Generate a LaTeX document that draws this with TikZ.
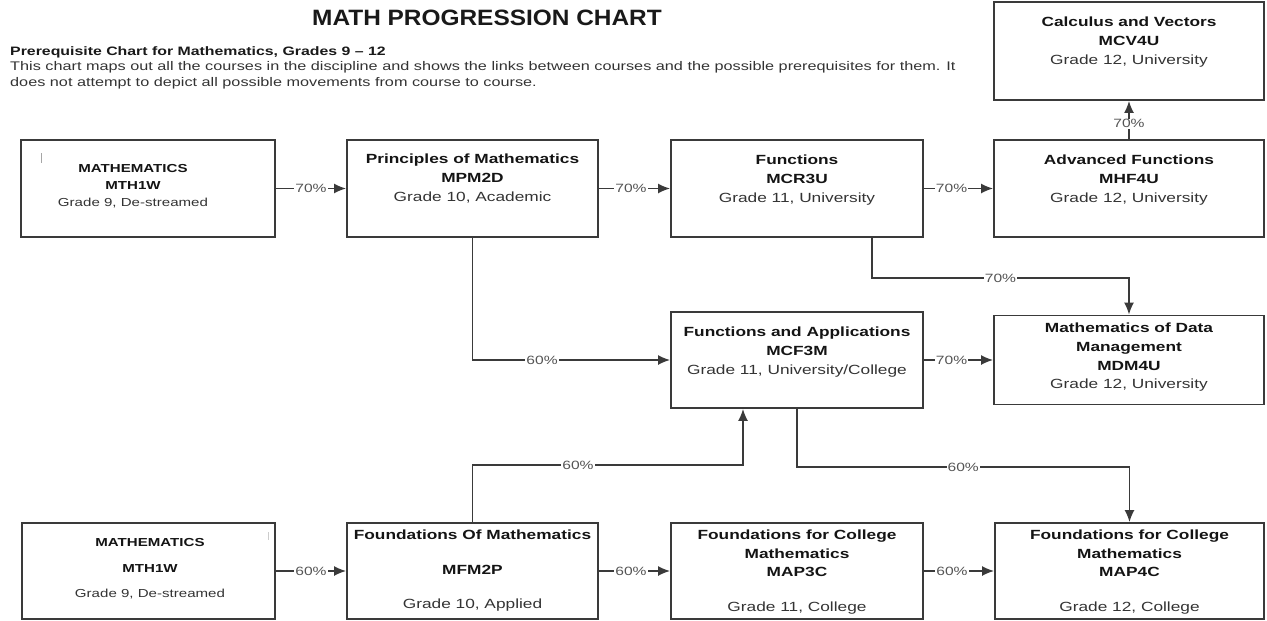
\documentclass[tikz,border=0pt]{standalone}
\usepackage{fontspec}
\setmainfont[FakeStretch=1.3]{Liberation Sans}
\newfontfamily\titlefont[FakeStretch=1.1]{Liberation Sans}
\usetikzlibrary{arrows.meta}
\definecolor{edge}{HTML}{3A3A3A}
\definecolor{bodytxt}{HTML}{333333}
\definecolor{lbl}{HTML}{555555}
\newcommand{\hd}[1]{{\bfseries\color{black!92}#1}}
\tikzset{
  box/.style={draw=edge, line width=1.9pt, rectangle, inner sep=0pt},
  conn/.style={draw=edge, line width=1.5pt, -{Latex[length=12pt,width=10pt]}},
  lab/.style={fill=white, inner sep=1pt, text=lbl, font=\fontsize{12}{14}\selectfont},
  course/.style={align=center, inner sep=0pt, anchor=north, text=bodytxt, font=\fontsize{13.3}{19}\selectfont},
  smallcourse/.style={align=center, inner sep=0pt, anchor=north, text=bodytxt, font=\fontsize{11.6}{17}\selectfont},
}
\begin{document}
\begin{tikzpicture}[x=1pt, y=-1pt]
\useasboundingbox (0,0) rectangle (1267,621);
% title and description
\node[font=\titlefont\bfseries\fontsize{22.2}{26}\selectfont, text=black!90] (title) at (487,18) {MATH PROGRESSION CHART};
\node[anchor=west, inner sep=0pt, font=\bfseries\fontsize{12.2}{14}\selectfont, text=black!90] (sub) at (10,52) {Prerequisite Chart for Mathematics, Grades 9 -- 12};
\node[anchor=north west, align=left, inner sep=0pt, font=\fontsize{12.5}{16}\selectfont, text=bodytxt] (desc) at (10,61.5)
  {This chart maps out all the courses in the discipline and shows the links between courses and the possible prerequisites for them. It\\
   does not attempt to depict all possible movements from course to course.};
% boxes
\node[box, minimum width=254pt, minimum height=97pt] (A) at (148,188.5) {};
\node[box, minimum width=251pt, minimum height=97pt] (B) at (472.5,188.5) {};
\node[box, minimum width=252pt, minimum height=97pt] (C) at (797,188.5) {};
\node[box, minimum width=270pt, minimum height=97pt] (D) at (1129,188.5) {};
\node[box, minimum width=270pt, minimum height=98pt] (E) at (1129,51) {};
\node[box, minimum width=252pt, minimum height=96pt] (F) at (797,360) {};
\node[box, minimum width=270pt, minimum height=89pt] (G) at (1129,360) {};
\node[box, minimum width=253pt, minimum height=96pt] (H) at (148.5,571) {};
\node[box, minimum width=251pt, minimum height=96pt] (I) at (472.5,571) {};
\node[box, minimum width=252pt, minimum height=96pt] (J) at (797,571) {};
\node[box, minimum width=269pt, minimum height=96pt] (K) at (1129.5,571) {};
% box texts
\node[smallcourse] (tA) at (133,164.5) {\hd{MATHEMATICS}\\\hd{MTH1W}\\Grade 9, De-streamed};
\node[course] (tB) at (472.5,154) {\hd{Principles of Mathematics}\\\hd{MPM2D}\\Grade 10, Academic};
\node[course] (tC) at (797,155) {\hd{Functions}\\\hd{MCR3U}\\Grade 11, University};
\node[course] (tD) at (1129,155) {\hd{Advanced Functions}\\\hd{MHF4U}\\Grade 12, University};
\node[course] (tE) at (1129,17) {\hd{Calculus and Vectors}\\\hd{MCV4U}\\Grade 12, University};
\node[course] (tF) at (797,327) {\hd{Functions and Applications}\\\hd{MCF3M}\\Grade 11, University/College};
\node[course, font=\fontsize{13.3}{18.7}\selectfont] (tG) at (1129,323) {\hd{Mathematics of Data}\\\hd{Management}\\\hd{MDM4U}\\Grade 12, University};
\node[smallcourse] (tH) at (150,538.5) {\hd{MATHEMATICS}\\[8.5pt]\hd{MTH1W}\\[8.5pt]Grade 9, De-streamed};
\node[course] (tI) at (472.5,529.5) {\hd{Foundations Of Mathematics}\\[16.5pt]\hd{MFM2P}\\[15pt]Grade 10, Applied};
\node[course, font=\fontsize{13.3}{18.5}\selectfont] (tJ) at (797,530) {\hd{Foundations for College}\\\hd{Mathematics}\\\hd{MAP3C}\\[16pt]Grade 11, College};
\node[course, font=\fontsize{13.3}{18.5}\selectfont] (tK) at (1129.5,530) {\hd{Foundations for College}\\\hd{Mathematics}\\\hd{MAP4C}\\[16pt]Grade 12, College};
% small cursor marks
\draw[black!35, line width=0.8pt] (41,153) -- (41,163);
\draw[black!20, line width=0.6pt] (268,532) -- (268,540);
% connectors
\draw[conn] (A) -- node[lab]{70\%} (B);
\draw[conn] (B) -- node[lab, pos=0.45]{70\%} (C);
\draw[conn] (C) -- node[lab, pos=0.4]{70\%} (D);
\draw[conn] (D) -- node[lab, pos=0.4]{70\%} (E);
\draw[conn] ([xshift=75pt]C.south) -- ++(0,40) -| node[lab, pos=0.25]{70\%} (G.north);
\draw[conn] (B.south) |- node[lab, pos=0.676]{60\%} (F.west);
\draw[conn] (F) -- node[lab, pos=0.4]{70\%} (G);
\draw[conn] (I.north) -- ++(0,-57) -| node[lab, pos=0.195]{60\%} ([xshift=-54pt]F.south);
\draw[conn] (F.south) -- ++(0,58) -| node[lab, pos=0.25]{60\%} (K.north);
\draw[conn] (H) -- node[lab]{60\%} (I);
\draw[conn] (I) -- node[lab, pos=0.45]{60\%} (J);
\draw[conn] (J) -- node[lab, pos=0.4]{60\%} (K);
\end{tikzpicture}
\end{document}
